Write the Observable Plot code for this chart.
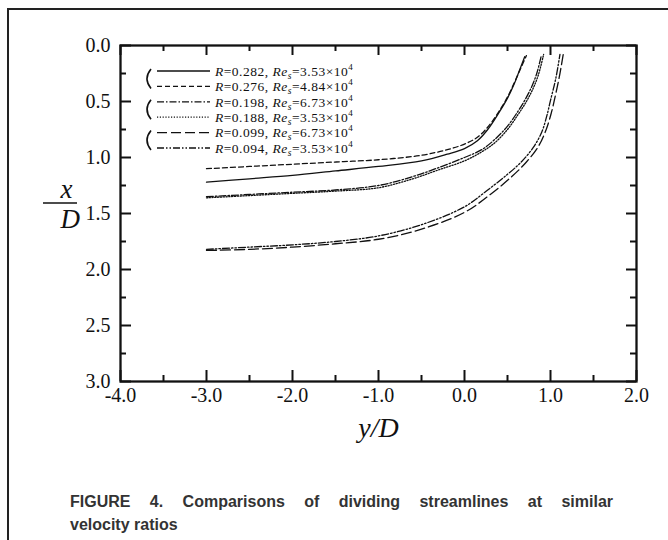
<!DOCTYPE html>
<html><head><meta charset="utf-8">
<script src="https://cdn.jsdelivr.net/npm/d3@7"></script>
<script src="https://cdn.jsdelivr.net/npm/@observablehq/plot@0.6"></script>
<style>
body{margin:0;background:#fff;}
#page{position:relative;width:668px;height:540px;overflow:hidden;background:#fff;}
#border{position:absolute;left:7px;top:8px;width:700px;height:600px;border-top:2.5px solid #222;border-left:2.5px solid #222;}
#chart{position:absolute;left:0;top:0;}
#caption{position:absolute;left:70px;top:490px;width:543px;font:bold 16px "Liberation Sans",Arial,sans-serif;color:#333;line-height:23px;}
#caption .l1{text-align:justify;text-align-last:justify;white-space:nowrap;}
g[aria-label="xticklabels"] text, g[aria-label="yticklabels"] text{letter-spacing:1.5px;}
g[aria-label="xlabel"] text{letter-spacing:2px;}
</style>
</head><body>
<div id="page"><div id="border"></div><div id="chart"></div>
<div id="caption"><div class="l1">FIGURE 4. Comparisons of dividing streamlines at similar</div><div>velocity ratios</div></div>
</div>
<script>
// Tick values and labels
const xTicksMajor = [-4, -3, -2, -1, 0, 1, 2];
const xTicksMinor = [-3.5, -2.5, -1.5, -0.5, 0.5, 1.5];
const xTickLabels = ["-4.0", "-3.0", "-2.0", "-1.0", "0.0", "1.0", "2.0"];
const yTicksMajor = [0, 0.5, 1, 1.5, 2, 2.5, 3];
const yTicksMinor = [0.25, 0.75, 1.25, 1.75, 2.25, 2.75];
const yTickLabels = ["0.0", "0.5", "1.0", "1.5", "2.0", "2.5", "3.0"];

// Series identification
const rValues = ["0.282", "0.276", "0.198", "0.188", "0.099", "0.094"];
const reValues = ["3.53", "4.84", "6.73", "3.53", "6.73", "3.53"];

// Dividing streamlines: horizontal y/D and vertical x/D
const s282_yD = [-3.0, -2.5, -2.0, -1.5, -1.0, -0.5, -0.2, 0.0, 0.15, 0.27, 0.4, 0.5, 0.58, 0.64, 0.70];
const s282_xD = [1.22, 1.19, 1.16, 1.12, 1.08, 1.03, 0.97, 0.92, 0.85, 0.75, 0.60, 0.47, 0.34, 0.22, 0.10];
const s276_yD = [-3.0, -2.5, -2.0, -1.5, -1.0, -0.5, -0.2, 0.0, 0.15, 0.28, 0.4, 0.5, 0.58, 0.65, 0.72];
const s276_xD = [1.10, 1.08, 1.06, 1.04, 1.02, 0.98, 0.93, 0.88, 0.82, 0.72, 0.59, 0.46, 0.33, 0.21, 0.09];
const s198_yD = [-3.0, -2.5, -2.0, -1.5, -1.0, -0.6, -0.3, 0.0, 0.2, 0.35, 0.5, 0.62, 0.7, 0.78, 0.84, 0.89];
const s198_xD = [1.35, 1.33, 1.31, 1.29, 1.25, 1.17, 1.09, 1.00, 0.93, 0.84, 0.72, 0.59, 0.49, 0.37, 0.25, 0.10];
const s188_yD = [-3.0, -2.5, -2.0, -1.5, -1.0, -0.6, -0.3, 0.0, 0.2, 0.35, 0.5, 0.62, 0.72, 0.8, 0.86, 0.92];
const s188_xD = [1.36, 1.34, 1.32, 1.30, 1.27, 1.19, 1.11, 1.03, 0.95, 0.87, 0.75, 0.62, 0.50, 0.38, 0.26, 0.08];
const s099_yD = [-3.0, -2.5, -2.0, -1.5, -1.0, -0.5, 0.0, 0.3, 0.55, 0.72, 0.86, 0.95, 1.01, 1.05, 1.1, 1.15];
const s099_xD = [1.83, 1.82, 1.80, 1.77, 1.73, 1.64, 1.49, 1.33, 1.17, 1.04, 0.90, 0.75, 0.60, 0.47, 0.29, 0.07];
const s094_yD = [-3.0, -2.5, -2.0, -1.5, -1.0, -0.5, 0.0, 0.27, 0.5, 0.66, 0.8, 0.9, 0.96, 1.0, 1.06, 1.11];
const s094_xD = [1.82, 1.80, 1.78, 1.75, 1.70, 1.60, 1.44, 1.29, 1.15, 1.04, 0.91, 0.77, 0.62, 0.49, 0.30, 0.08];

const seriesYD = [s282_yD, s276_yD, s198_yD, s188_yD, s099_yD, s094_yD];
const seriesXD = [s282_xD, s276_xD, s198_xD, s188_xD, s099_xD, s094_xD];
const dashes = [null, "5,3", "7,2,1.5,2", "1.2,1.6", "10,4", "7,2,1.5,2,1.5,2"];

const rows = rValues.flatMap((r, i) => seriesYD[i].map((v, j) => ({r, yD: v, xD: seriesXD[i][j]})));

const W = 668, H = 460, ML = 120, MR = 32, MT = 45, MB = 79;
const IW = W - ML - MR, IH = H - MT - MB;
const ink = "#111";

const plot = Plot.plot({
  width: W, height: H,
  marginLeft: ML, marginRight: MR, marginTop: MT, marginBottom: MB,
  x: {domain: [-4, 2], axis: null},
  y: {domain: [0, 3], reverse: true, axis: null},
  style: {fontFamily: "'Liberation Serif','Times New Roman',serif", fontSize: "20px", color: ink, background: "transparent", overflow: "visible"},
  marks: [
    ...rValues.map((r, i) => Plot.line(rows.filter(d => d.r === r), {
      x: "yD", y: "xD", curve: "catmull-rom", stroke: ink, strokeWidth: 1.3,
      strokeDasharray: dashes[i] ?? undefined
    })),
    // inward ticks on all four sides
    Plot.tickX(xTicksMajor, {x: d => d, insetTop: IH - 11, stroke: ink, strokeWidth: 2}),
    Plot.tickX(xTicksMinor, {x: d => d, insetTop: IH - 6, stroke: ink, strokeWidth: 2}),
    Plot.tickX(xTicksMajor, {x: d => d, insetBottom: IH - 10, stroke: ink, strokeWidth: 2}),
    Plot.tickX(xTicksMinor, {x: d => d, insetBottom: IH - 6, stroke: ink, strokeWidth: 2}),
    Plot.tickY(yTicksMajor, {y: d => d, insetRight: IW - 11, stroke: ink, strokeWidth: 2}),
    Plot.tickY(yTicksMinor, {y: d => d, insetRight: IW - 6, stroke: ink, strokeWidth: 2}),
    Plot.tickY(yTicksMajor, {y: d => d, insetLeft: IW - 10, stroke: ink, strokeWidth: 2}),
    Plot.tickY(yTicksMinor, {y: d => d, insetLeft: IW - 6, stroke: ink, strokeWidth: 2}),
    Plot.frame({stroke: ink, strokeWidth: 2.3}),
    // tick labels
    Plot.text(xTicksMajor, {x: d => d, frameAnchor: "bottom", lineAnchor: "top", dy: 6, text: (d, i) => xTickLabels[i], fill: ink, ariaLabel: "xticklabels"}),
    Plot.text(yTicksMajor, {y: d => d, frameAnchor: "left", textAnchor: "end", dx: -10, text: (d, i) => yTickLabels[i], fill: ink, ariaLabel: "yticklabels"}),
    // axis labels
    Plot.text(["y/D"], {frameAnchor: "bottom", dy: 55, text: d => d, fontSize: 28, fontStyle: "italic", fill: ink, ariaLabel: "xlabel"}),
    Plot.text(["x"], {frameAnchor: "left", dx: -60, dy: -24, text: d => d, fontSize: 27, fontStyle: "italic", fill: ink}),
    Plot.text(["D"], {frameAnchor: "left", dx: -60, dy: 6, text: d => d, fontSize: 27, fontStyle: "italic", fill: ink})
  ]
});
document.getElementById("chart").appendChild(plot);

// fraction bar of the vertical axis label and the legend
const svg = d3.select(plot);
svg.append("line").attr("x1", 43).attr("x2", 77).attr("y1", 203).attr("y2", 203)
  .attr("stroke", ink).attr("stroke-width", 1.3);

const legY = [71, 86.4, 101.8, 117.2, 132.6, 148];
const leg = svg.append("g").attr("font-family", "'Liberation Serif','Times New Roman',serif")
  .attr("font-size", 13.5).attr("fill", ink).attr("text-anchor", "start");
rValues.forEach((r, i) => {
  const y = legY[i];
  const ln = leg.append("line").attr("x1", 157).attr("x2", 210).attr("y1", y).attr("y2", y)
    .attr("stroke", ink).attr("stroke-width", 1.3);
  if (dashes[i]) ln.attr("stroke-dasharray", dashes[i]);
  const t = leg.append("text").attr("x", 215).attr("y", y).attr("dy", "0.35em")
    .attr("text-anchor", "start").attr("letter-spacing", "0.5px");
  t.append("tspan").attr("font-style", "italic").text("R");
  t.append("tspan").text("=" + r + ", ");
  t.append("tspan").attr("font-style", "italic").text("Re");
  t.append("tspan").attr("font-style", "italic").attr("font-size", 9.5).attr("dy", 3).text("s");
  t.append("tspan").attr("dy", -3).text("=" + reValues[i] + "×10");
  t.append("tspan").attr("font-size", 9).attr("dy", -6).text("4");
});
[0, 2, 4].forEach(k => {
  const a = legY[k] - 2, b = legY[k + 1] + 2;
  leg.append("path").attr("d", `M151,${a} Q143,${(a + b) / 2} 151,${b}`)
    .attr("fill", "none").attr("stroke", ink).attr("stroke-width", 1.6);
});
</script>
</body></html>
